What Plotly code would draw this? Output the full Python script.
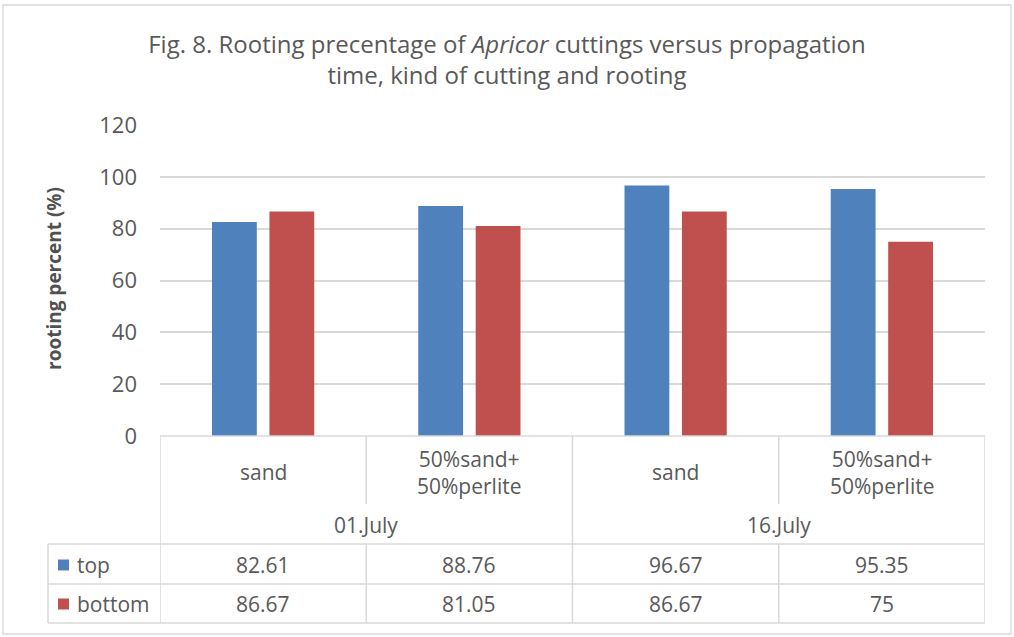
import plotly.graph_objects as go

# ---- data ----
dates = ["01.July", "16.July"]
media = ["sand", "50%sand+<br>50%perlite", "sand", "50%sand+<br>50%perlite"]
series_names = ["top", "bottom"]
top = [82.61, 88.76, 96.67, 95.35]
bottom = [86.67, 81.05, 86.67, 75]
yticks = [0, 20, 40, 60, 80, 100, 120]

colors = ["#4F81BD", "#C0504D"]
grid = "#D9D9D9"
txt = "#595959"
FONT = "Open Sans"

xs = list(range(len(top)))

fig = go.Figure()
for name, vals, col in zip(series_names, [top, bottom], colors):
    fig.add_trace(go.Bar(x=xs, y=vals, name=name, marker=dict(color=col, line=dict(width=0)),
                         showlegend=False, hoverinfo="y"))

W, H = 1014, 637
L, R, T, B = 160, 29, 125, 201
pw, ph = W - L - R, H - T - B

def py(p):  # pixel y -> paper y
    return (H - B - p) / ph

def px(p):  # pixel x -> paper x
    return (p - L) / pw

shapes = []
def line(x0, y0, x1, y1, xref="x", yref="paper", color=grid, w=1.5):
    shapes.append(dict(type="line", x0=x0, y0=y0, x1=x1, y1=y1, xref=xref, yref=yref,
                       line=dict(color=color, width=w), layer="above"))

row1, row2, row3 = py(544), py(584), py(623)
div_end = py(504)
leg_left = px(48)

# x axis / table top line
line(-0.5, 0, 3.5, 0)
# horizontal table lines
for yy in [row1, row2, row3]:
    line(leg_left, yy, 1, yy, xref="paper")
# vertical lines
n = len(top)
for i in range(n + 1):
    xv = i - 0.5
    if i in (0, n, n // 2):
        line(xv, 0, xv, row3)
    else:
        line(xv, 0, xv, div_end)
        line(xv, row1, xv, row3)
line(leg_left, row1, leg_left, row3, xref="paper")

# outer border
shapes.append(dict(type="rect", xref="paper", yref="paper", x0=px(3), x1=px(1011), y0=py(5), y1=py(634),
                   line=dict(color=grid, width=1.3), fillcolor="rgba(0,0,0,0)", layer="below"))

annotations = []
def ann(x, y, text, xref="x", xanchor="center", size=21, color=txt, **kw):
    annotations.append(dict(x=x, y=y, xref=xref, yref="paper", text=text, showarrow=False,
                            xanchor=xanchor, yanchor="middle",
                            font=dict(family=FONT, size=size, color=color), **kw))

# category labels
for i, m in enumerate(media):
    ann(i, py(472), m)
# date labels
per = n // len(dates)
for j, d in enumerate(dates):
    ann(j * per + (per - 1) / 2, py(525), d)
# values
for i in range(n):
    ann(i, py(565), f"{top[i]:g}")
    ann(i, py(604), f"{bottom[i]:g}")
# legend keys in table
for k, (name, col, pyy) in enumerate(zip(series_names, colors, [565, 604])):
    shapes.append(dict(type="rect", xref="paper", yref="paper", x0=px(58), x1=px(69),
                       y0=py(pyy + 5.5), y1=py(pyy - 5.5), fillcolor=col, line=dict(width=0)))
    ann(px(75), py(pyy), name, xref="paper", xanchor="left")

# y axis title
ann(px(54), py(279), "<b>rooting percent (%)</b>", xref="paper", size=19, color="#505050", textangle=-90)

fig.update_layout(
    width=W, height=H, autosize=False,
    margin=dict(l=L, r=R, t=T, b=B),
    paper_bgcolor="white", plot_bgcolor="white",
    barmode="group", bargap=0.443, bargroupgap=0.22,
    title=dict(text="Fig. 8. Rooting precentage of <i>Apricor</i> cuttings versus propagation<br>time, kind of cutting and rooting",
               x=0.5, xanchor="center", y=1 - 53 / H, yanchor="middle",
               font=dict(family=FONT, size=24, color=txt)),
    xaxis=dict(range=[-0.5, 3.5], showticklabels=False, showgrid=False, zeroline=False,
               showline=False, fixedrange=True),
    yaxis=dict(range=[0, 120], tickvals=yticks, showgrid=True, gridcolor=grid, gridwidth=1.5,
               zeroline=False, showline=False, ticklabelstandoff=22,
               tickfont=dict(family=FONT, size=22, color=txt)),
    shapes=shapes, annotations=annotations,
    font=dict(family=FONT, color=txt),
)

fig.write_html("out.html", config={"displayModeBar": False},
               post_script="document.body.style.margin='0px';")
